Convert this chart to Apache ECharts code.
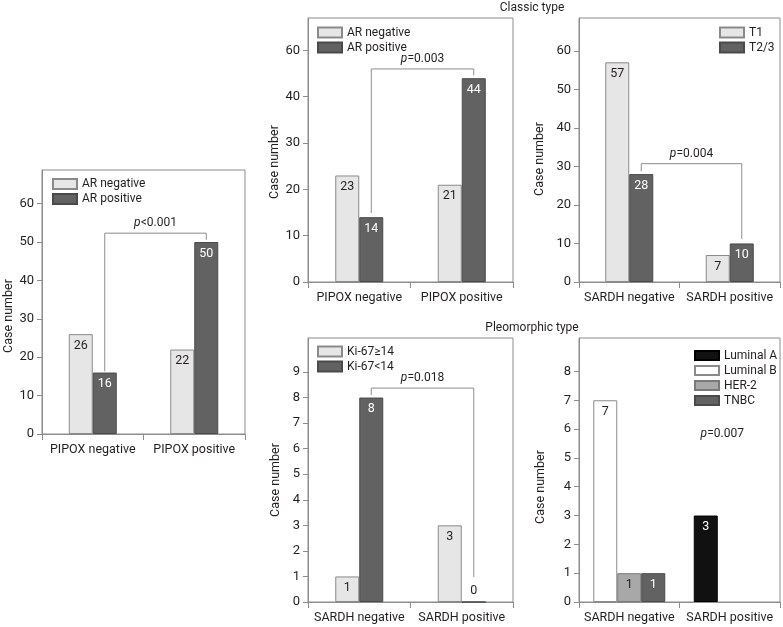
<!DOCTYPE html>
<html>
<head>
<meta charset="utf-8">
<script src="https://cdn.jsdelivr.net/npm/echarts@6/dist/echarts.min.js"></script>
<style>html,body{margin:0;padding:0;background:#fff}#c{width:783px;height:627px}</style>
</head>
<body>
<div id="c"></div>
<script>
// ---------- data ----------
const pipoxCategories = ['PIPOX negative', 'PIPOX positive'];
const sardhCategories = ['SARDH negative', 'SARDH positive'];

const allArNegative = [26, 22];
const allArPositive = [16, 50];

const classicArNegative = [23, 21];
const classicArPositive = [14, 44];

const classicT1 = [57, 7];
const classicT23 = [28, 10];

const pleoKiHigh = [1, 3];
const pleoKiLow = [8, 0];

const pleoLuminalA = [0, 3];
const pleoLuminalB = [7, 0];
const pleoHer2 = [1, 0];
const pleoTnbc = [1, 0];

const ticksBy10 = [0, 10, 20, 30, 40, 50, 60];
const classicArTickValues = [0, 10, 20, 30, 40, 50];
const classicArTickLabels = ['0', '10', '20', '30', '40', '60'];
const ticks0to9 = [0, 1, 2, 3, 4, 5, 6, 7, 8, 9];
const ticks0to8 = [0, 1, 2, 3, 4, 5, 6, 7, 8];

const pValues = ['<0.001', '=0.003', '=0.004', '=0.018', '=0.007'];
const panelTitles = ['Classic type', 'Pleomorphic type'];
const yName = 'Case number';

// ---------- styles ----------
const FONT = 'Roboto, "Liberation Sans", sans-serif';
const FS = 12;
const TXT = '#231f20';
const LINE = '#8c8c8c';
const LIGHT = { color: '#e6e6e6', borderColor: '#8a8a8a', borderWidth: 1 };
const DARK = { color: '#626262', borderColor: '#4a4a4a', borderWidth: 1 };
const WHITE = { color: '#ffffff', borderColor: '#8a8a8a', borderWidth: 1 };
const MID = { color: '#a8a8a8', borderColor: '#7a7a7a', borderWidth: 1 };
const BLACK = { color: '#111111', borderColor: '#000000', borderWidth: 1 };
const BAR_W = 24;

// ---------- panels (layout) ----------
const panels = [
  { grid: { left: 42, top: 170, width: 203, height: 264 }, yMax: 68.75, ticks: ticksBy10,
    cats: pipoxCategories, nameGap: 27, nameShift: 14,
    legend: { left: 52, top: 178, itemHeight: 10, itemGap: 3 },
    series: [
      { name: 'AR negative', data: allArNegative, style: LIGHT, label: TXT },
      { name: 'AR positive', data: allArPositive, style: DARK, label: '#fff' }
    ],
    bracket: { from: 0, to: 1, y: 52.3, yFrom: 16.3, yTo: 50.6, p: 0 } },
  { grid: { left: 308, top: 18, width: 205, height: 264 }, yMax: 57, ticks: classicArTickValues,
    tickLabels: classicArTickLabels,
    cats: pipoxCategories, nameGap: 27, nameShift: 12,
    legend: { left: 317, top: 26.5, itemHeight: 10, itemGap: 3 },
    series: [
      { name: 'AR negative', data: classicArNegative, style: LIGHT, label: TXT },
      { name: 'AR positive', data: classicArPositive, style: DARK, label: '#fff' }
    ],
    bracket: { from: 0, to: 1, y: 46.0, yFrom: 14.9, yTo: 44.6, p: 1 } },
  { grid: { left: 579, top: 18, width: 201, height: 264 }, yMax: 68.5, ticks: ticksBy10,
    cats: sardhCategories, nameGap: 33, nameShift: 9,
    legend: { left: 719, top: 26.5, itemHeight: 10, itemGap: 3 },
    series: [
      { name: 'T1', data: classicT1, style: LIGHT, label: TXT },
      { name: 'T2/3', data: classicT23, style: DARK, label: '#fff' }
    ],
    bracket: { from: 0, to: 1, y: 30.7, yFrom: 28.7, yTo: 11.2, p: 2 } },
  { grid: { left: 308, top: 338, width: 205, height: 264 }, yMax: 10.33, ticks: ticks0to9,
    cats: sardhCategories, nameGap: 26, nameShift: 10, showZero: true,
    legend: { left: 317, top: 345.5, itemHeight: 10, itemGap: 3 },
    series: [
      { name: 'Ki-67≥14', data: pleoKiHigh, style: LIGHT, label: TXT },
      { name: 'Ki-67<14', data: pleoKiLow, style: DARK, label: '#fff' }
    ],
    bracket: { from: 0, to: 1, y: 8.37, yFrom: 8.1, yTo: 0.98, p: 3 } },
  { grid: { left: 579, top: 338, width: 201, height: 264 }, yMax: 9.16, ticks: ticks0to8,
    cats: sardhCategories, nameGap: 32, nameShift: 17, hideZero: true,
    legend: { left: 694, top: 349.5, itemHeight: 9, itemGap: 3 },
    series: [
      { name: 'Luminal A', data: pleoLuminalA, style: BLACK, label: '#fff', stack: 'ab' },
      { name: 'Luminal B', data: pleoLuminalB, style: WHITE, label: TXT, stack: 'ab' },
      { name: 'HER-2', data: pleoHer2, style: MID, label: TXT },
      { name: 'TNBC', data: pleoTnbc, style: DARK, label: '#fff' }
    ],
    note: { cat: 1, y: 5.83, dx: -7.5, p: 4 } }
];

function pText(i) { return '{i|p}' + pValues[i]; }
const richP = { i: { fontStyle: 'italic', fontFamily: FONT, fontSize: FS, fill: TXT } };

function annotationRender(params, api) {
  const item = annotationItems[params.seriesIndex];
  const children = [];
  if (item.kind === 'bracket') {
    const off = BAR_W / 2;
    const a = api.coord([api.value(0), api.value(2)]);
    const b = api.coord([api.value(1), api.value(2)]);
    const a0 = api.coord([api.value(0), api.value(3)]);
    const b0 = api.coord([api.value(1), api.value(4)]);
    const x1 = a[0] + off, x2 = b[0] + off;
    children.push({ type: 'polyline', shape: { points: [[x1, a0[1]], [x1, a[1]], [x2, a[1]], [x2, b0[1]]] },
      style: { stroke: LINE, fill: null, lineWidth: 1 } });
    children.push({ type: 'text', x: (x1 + x2) / 2, y: a[1] - 10,
      style: { text: pText(item.p), rich: richP, fontFamily: FONT, fontSize: FS, fill: TXT, align: 'center', verticalAlign: 'middle' } });
  } else {
    const c = api.coord([api.value(0), api.value(1)]);
    children.push({ type: 'text', x: c[0] + item.dx, y: c[1],
      style: { text: pText(item.p), rich: richP, fontFamily: FONT, fontSize: FS, fill: TXT, align: 'center', verticalAlign: 'middle' } });
  }
  return { type: 'group', children };
}

const option = { animation: false, backgroundColor: '#fff',
  title: [], grid: [], xAxis: [], yAxis: [], legend: [], series: [] };
const annotationItems = [];

panelTitles.forEach((t, i) => {
  option.title.push({ text: t, left: 532, top: i === 0 ? 2 : 322, textAlign: 'center', padding: 0,
    textStyle: { fontFamily: FONT, fontSize: FS, fontWeight: 'normal', color: TXT } });
});

panels.forEach((p, gi) => {
  option.grid.push(Object.assign({ show: true, borderColor: LINE, borderWidth: 1, backgroundColor: 'transparent' }, p.grid));
  option.xAxis.push({ type: 'category', gridIndex: gi, data: p.cats,
    axisLine: { lineStyle: { color: LINE } },
    axisTick: { show: true, length: 6, lineStyle: { color: LINE } },
    axisLabel: { interval: 0, fontFamily: FONT, fontSize: 12.5, color: TXT, margin: 9 } });
  option.yAxis.push({ type: 'value', gridIndex: gi, min: 0, max: p.yMax,
    name: yName, nameLocation: 'middle', nameGap: p.nameGap,
    nameTextStyle: { fontFamily: FONT, fontSize: 12.5, color: TXT, padding: [0, 2 * p.nameShift, 0, 0] },
    splitLine: { show: false },
    axisLine: { show: true, lineStyle: { color: LINE } },
    axisTick: { show: true, length: 5, customValues: p.ticks, lineStyle: { color: LINE } },
    axisLabel: { fontFamily: FONT, fontSize: 13, color: TXT, margin: 8, customValues: p.ticks,
      formatter: p.tickLabels ? (v) => p.tickLabels[p.ticks.indexOf(v)] : (v) => String(v) } });
  option.legend.push(Object.assign({ orient: 'vertical', padding: 0, icon: 'rect', itemWidth: 24,
    data: p.series.map(s => s.name), selectedMode: false,
    textStyle: { fontFamily: FONT, fontSize: FS, color: TXT } }, p.legend));
  p.series.forEach(s => {
    const data = s.data.map(v => {
      if (v === 0 && p.hideZero) return null;
      if (v === 0 && p.showZero) return { value: 0, label: { position: 'top', distance: 4, color: TXT } };
      return v;
    });
    option.series.push({ type: 'bar', name: s.name, xAxisIndex: gi, yAxisIndex: gi, data,
      stack: s.stack, barWidth: BAR_W, barGap: '0%', itemStyle: s.style,
      label: { show: true, position: 'insideTop', distance: 5, color: s.label, fontFamily: FONT, fontSize: 12.5 } });
    annotationItems.push(null);
  });
  if (p.bracket) {
    const b = p.bracket;
    annotationItems.push({ kind: 'bracket', p: b.p });
    option.series.push({ type: 'custom', xAxisIndex: gi, yAxisIndex: gi, clip: false, z: 5,
      encode: { x: 0, y: 2 }, renderItem: annotationRender, data: [[b.from, b.to, b.y, b.yFrom, b.yTo]] });
  }
  if (p.note) {
    const n = p.note;
    annotationItems.push({ kind: 'note', p: n.p, dx: n.dx });
    option.series.push({ type: 'custom', xAxisIndex: gi, yAxisIndex: gi, clip: false, z: 5,
      encode: { x: 0, y: 1 }, renderItem: annotationRender, data: [[n.cat, n.y]] });
  }
});

const chart = echarts.init(document.getElementById('c'), null, { renderer: 'canvas' });
chart.setOption(option);
</script>
</body>
</html>
